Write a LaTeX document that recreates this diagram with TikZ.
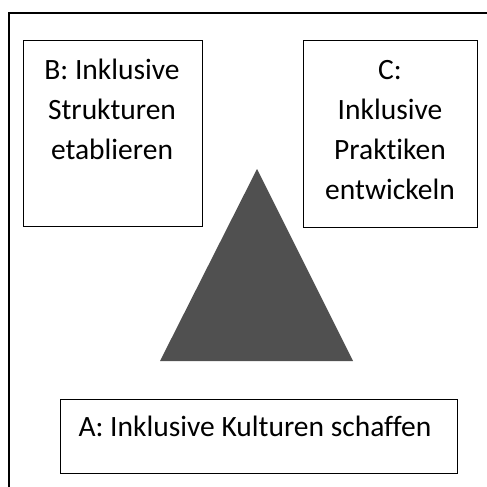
\documentclass[tikz,border=0pt]{standalone}
\usepackage{fontspec}
\setmainfont{Carlito}[Ligatures=NoCommon]
\definecolor{pyramid}{RGB}{80,80,80}
\tikzset{
  dimbox/.style={draw, line width=1.4pt, anchor=north west, inner sep=0pt},
  dimtext/.style={anchor=base, inner sep=0pt, align=center, font=\fontsize{29.5}{40}\selectfont},
}

\begin{document}
\begin{tikzpicture}[x=1pt,y=-1pt]
\useasboundingbox (0,0) rectangle (487,487);
\clip (0,0) rectangle (487,487);
% frame
\draw [line width=2pt] (9,495) -- (9,13) -- (495,13) ;
% boxes
\node [dimbox, minimum width=179pt, minimum height=186pt] (boxB) at (23,40) {};
\node [dimbox, minimum width=174pt, minimum height=187pt] (boxC) at (303,40) {};
\node [dimbox, minimum width=397pt, minimum height=74pt] (boxA) at (60,399) {};
% triangle
\fill [pyramid] (257,169) -- (353,361) -- (160,361) -- cycle ;
%Text
\node [dimtext] (textB) at (112,159) {B: Inklusive\\Strukturen\\etablieren};
\node [dimtext] (textC) at (390,199) {C:\\Inklusive\\Praktiken\\entwickeln};
\node [dimtext] (textA) at (255,436) {A: Inklusive Kulturen schaffen};
\end{tikzpicture}
\end{document}
